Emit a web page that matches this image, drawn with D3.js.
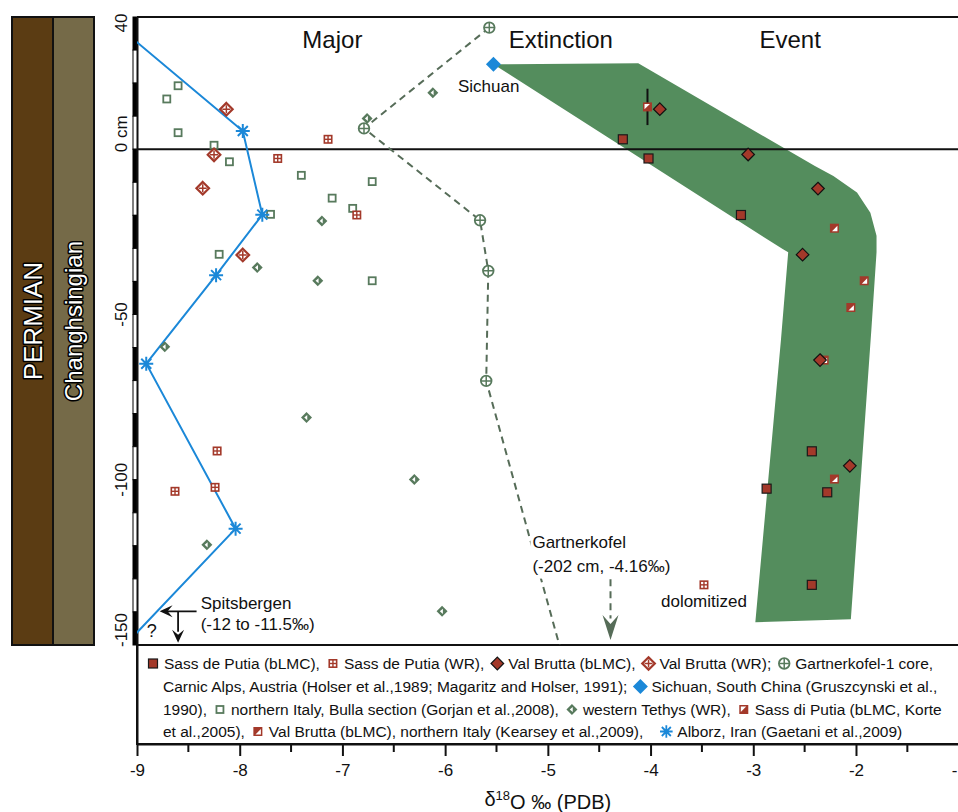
<!DOCTYPE html>
<html>
<head>
<meta charset="UTF-8">
<title>d18O across the end-Permian extinction</title>
<script src="https://cdn.jsdelivr.net/npm/d3@7"></script>
<style>
  body { margin: 0; background: #fff; }
  svg { display: block; font-family: "Liberation Sans", Arial, Helvetica, sans-serif; }
  .lbl { font-size: 17px; fill: #111; }
</style>
</head>
<body>
<div id="graphe"></div>
<script>
// --- data: d18O (per mil PDB) and depth (cm) ---
var sassLmcX = [-4.27, -4.02, -3.12, -2.43, -2.87, -2.28, -2.43];
var sassLmcD = [3.0, -2.8, -19.9, -91.4, -102.7, -103.8, -131.8];

var sassWrX = [-7.63, -7.14, -6.86, -8.22, -8.63, -8.24, -3.48];
var sassWrD = [-2.8, 3.0, -19.9, -91.3, -103.5, -102.3, -131.8];

var valLmcX = [-3.91, -3.05, -2.37, -2.52, -2.35, -2.06];
var valLmcD = [12.1, -1.6, -11.9, -31.9, -63.8, -95.8];

var valWrX = [-8.13, -8.25, -8.36, -7.97];
var valWrD = [12.1, -1.7, -11.8, -32.0];

// Gartnerkofel-1 core, last vertex runs off the chart toward -202 cm
var gartX = [-5.57, -6.79, -5.66, -5.58, -5.60, -4.87];
var gartD = [36.8, 6.3, -21.5, -36.8, -70.1, -152];

var sichuanX = [-5.53];
var sichuanD = [25.7];

var bullaX = [-8.60, -8.71, -8.60, -8.25, -8.10, -7.40, -7.10, -6.90, -6.71, -7.70, -8.20, -6.71];
var bullaD = [19.2, 15.2, 5.0, 1.2, -3.8, -7.9, -14.8, -17.9, -9.8, -19.7, -31.8, -39.8];

var tethysX = [-6.12, -6.76, -7.20, -7.24, -7.83, -8.73, -7.35, -8.32, -6.30, -6.03];
var tethysD = [17.1, 9.3, -21.7, -39.8, -35.8, -59.8, -81.2, -119.7, -99.9, -139.8];

var korteX = [-4.03];
var korteD = [12.8];
var korteErr = [5.5];

var kearseyX = [-2.21, -1.92, -2.05, -2.31, -2.21];
var kearseyD = [-23.9, -39.8, -47.9, -63.8, -99.8];

// Alborz line, first and last vertex leave the chart on the left
var alborzX = [-9.2, -7.97, -7.78, -8.23, -8.91, -8.04, -9.1];
var alborzD = [37.6, 5.5, -19.8, -38.1, -64.9, -114.8, -149.5];

// green envelope of the extinction event
var bandX = [-5.53, -4.12, -2.40, -2.22, -1.99, -1.86, -1.80, -1.80, -1.85, -2.05, -2.98, -2.73, -2.66, -2.71];
var bandD = [25.7, 26.0, -5.1, -8.1, -13.1, -19.2, -26.2, -31.2, -54.5, -142.2, -143.1, -57.5, -31.2, -30.3];

var xTicks = [-9, -8, -7, -6, -5, -4, -3, -2, -1];
var yTicks = [40, 0, -50, -100, -150];

var width = 958, height = 812;
var red = "#a3392a", grn = "#587a5d", dash = "#566c58", blue = "#1b88d8", bandCol = "#548d5d";

var x = d3.scaleLinear().domain([-9, -1]).range([137, 958.7]);
var y = d3.scaleLinear().domain([-150, 40]).range([645, 17]);
var axisY = 744;

var svg = d3.select("#graphe").append("svg")
    .attr("width", width).attr("height", height);

svg.append("defs").append("clipPath").attr("id", "plot").append("rect")
    .attr("x", x(-9)).attr("y", y(40))
    .attr("width", width - x(-9)).attr("height", y(-150) - y(40));

// stratigraphic column
var strat = [
  {name: "PERMIAN", fill: "#5b3c13", x0: 12, x1: 53, fs: 26},
  {name: "Changhsingian", fill: "#756a48", x0: 53, x1: 94, fs: 24}
];
svg.selectAll(".strat").data(strat).enter().append("rect")
    .attr("x", function(d) { return d.x0; })
    .attr("y", y(40))
    .attr("width", function(d) { return d.x1 - d.x0; })
    .attr("height", y(-150) - y(40))
    .attr("fill", function(d) { return d.fill; })
    .attr("stroke", "#111").attr("stroke-width", 2);
svg.selectAll(".stratlbl").data(strat).enter().append("text")
    .attr("transform", function(d) { return "translate(" + ((d.x0 + d.x1) / 2) + "," + y(-52) + ") rotate(-90)"; })
    .attr("text-anchor", "middle").attr("dy", "0.36em")
    .style("font-size", function(d) { return d.fs + "px"; })
    .attr("fill", "#fff").attr("stroke", "#000").attr("stroke-width", 3)
    .attr("paint-order", "stroke").attr("stroke-linejoin", "round")
    .text(function(d) { return d.name; });

// legend box (also closes the plot at -150 cm)
svg.append("rect")
    .attr("x", x(-9)).attr("y", y(-150))
    .attr("width", width).attr("height", axisY - y(-150))
    .attr("fill", "#fff").attr("stroke", "#111").attr("stroke-width", 2);

// depth scale bar, 10 cm segments
var segs = d3.range(40, -150, -10);
svg.selectAll(".seg").data(segs).enter().append("rect")
    .attr("x", 133).attr("width", 4.5)
    .attr("y", function(d) { return y(d); })
    .attr("height", function(d) { return y(d - 10) - y(d); })
    .attr("fill", function(d, i) { return i % 2 === 0 ? "#000" : "#fff"; })
    .attr("stroke", "#000").attr("stroke-width", 1);

svg.selectAll(".ylbl").data(yTicks).enter().append("text")
    .attr("class", "lbl")
    .attr("transform", function(d) {
      var py = d === 0 ? y(0) + 3 : Math.max(23, Math.min(630, y(d)));
      return "translate(121," + py + ") rotate(-90)";
    })
    .attr("text-anchor", function(d) { return d === 0 ? "start" : "middle"; })
    .attr("dy", "0.36em")
    .text(function(d) { return d === 0 ? "0 cm" : d; });

// frame
svg.append("line").attr("x1", x(-9)).attr("x2", width).attr("y1", y(40)).attr("y2", y(40))
    .attr("stroke", "#111").attr("stroke-width", 2);
svg.append("line").attr("x1", x(-9) + 0.5).attr("x2", x(-9) + 0.5).attr("y1", y(40)).attr("y2", axisY)
    .attr("stroke", "#111").attr("stroke-width", 2);

var plot = svg.append("g").attr("clip-path", "url(#plot)");

// extinction band
var bandPts = bandX.map(function(v, i) { return [v, bandD[i]]; });
plot.append("path")
    .attr("d", d3.line().x(function(d) { return x(d[0]); }).y(function(d) { return y(d[1]); })(bandPts) + "Z")
    .attr("fill", bandCol);

// boundary line at 0 cm
plot.append("line").attr("x1", x(-9)).attr("x2", width).attr("y1", y(0)).attr("y2", y(0))
    .attr("stroke", "#111").attr("stroke-width", 2);

var line = d3.line().x(function(d) { return x(d[0]); }).y(function(d) { return y(d[1]); });

// Gartnerkofel dashed curve
var gartPts = gartX.map(function(v, i) { return [v, gartD[i]]; });
plot.append("path").attr("d", line(gartPts))
    .attr("fill", "none").attr("stroke", dash).attr("stroke-width", 2)
    .attr("stroke-dasharray", "7,5");

// Alborz curve
var alborzPts = alborzX.map(function(v, i) { return [v, alborzD[i]]; });
plot.append("path").attr("d", line(alborzPts))
    .attr("fill", "none").attr("stroke", blue).attr("stroke-width", 2);

// Korte error bar
korteX.forEach(function(v, i) {
  plot.append("line").attr("x1", x(v)).attr("x2", x(v))
      .attr("y1", y(korteD[i] + korteErr[i])).attr("y2", y(korteD[i] - korteErr[i]))
      .attr("stroke", "#111").attr("stroke-width", 2);
});

function diamond(r) { return "M0," + (-r) + "L" + r + ",0L0," + r + "L" + (-r) + ",0Z"; }

var markers = {
  sassLmc: function(g) {
    g.append("rect").attr("x", -4.5).attr("y", -4.5).attr("width", 9).attr("height", 9)
        .attr("fill", red).attr("stroke", "#1a1a1a").attr("stroke-width", 1.2);
  },
  sassWr: function(g) {
    g.append("rect").attr("x", -4.5).attr("y", -4.5).attr("width", 9).attr("height", 9).attr("fill", red);
    [[-2.9, -2.9], [0.7, -2.9], [-2.9, 0.7], [0.7, 0.7]].forEach(function(p) {
      g.append("rect").attr("x", p[0]).attr("y", p[1]).attr("width", 2.2).attr("height", 2.2).attr("fill", "#fff");
    });
  },
  valLmc: function(g) {
    g.append("path").attr("d", diamond(6.3)).attr("fill", red)
        .attr("stroke", "#111").attr("stroke-width", 1.2);
  },
  valWr: function(g) {
    g.append("path").attr("d", diamond(6.3)).attr("fill", "#fff")
        .attr("stroke", red).attr("stroke-width", 2.2);
    g.append("path").attr("d", "M-4,0H4M0,-4V4").attr("stroke", red).attr("stroke-width", 1.5);
  },
  gart: function(g) {
    g.append("circle").attr("r", 5.3).attr("fill", "#fff")
        .attr("stroke", grn).attr("stroke-width", 1.8);
    g.append("path").attr("d", "M-5,0H5M0,-5V5").attr("stroke", grn).attr("stroke-width", 1.5);
  },
  sichuan: function(g) {
    g.append("path").attr("d", diamond(7.5)).attr("fill", blue);
  },
  bulla: function(g) {
    g.append("rect").attr("x", -3.5).attr("y", -3.5).attr("width", 7).attr("height", 7)
        .attr("fill", "#fff").attr("stroke", grn).attr("stroke-width", 1.8);
  },
  tethys: function(g) {
    g.append("path").attr("d", diamond(5.5)).attr("fill", grn);
    g.append("path").attr("d", "M-2.2,0L0.8,-2.6L0.8,2.6Z").attr("fill", "#fff");
  },
  korte: function(g) {
    g.append("rect").attr("x", -4.5).attr("y", -4.5).attr("width", 9).attr("height", 9).attr("fill", red);
    g.append("path").attr("d", "M-3,-3L2.4,-3L-3,2.4Z").attr("fill", "#fff");
  },
  kearsey: function(g) {
    g.append("rect").attr("x", -4.5).attr("y", -4.5).attr("width", 9).attr("height", 9).attr("fill", red);
    g.append("path").attr("d", "M3,-2.4L3,3L-2.4,3Z").attr("fill", "#fff");
  },
  alborz: function(g) {
    g.append("path").attr("d", "M-7,0H7M0,-7V7M-5,-5L5,5M-5,5L5,-5")
        .attr("stroke", blue).attr("stroke-width", 2);
  }
};

function plotSeries(xs, ds, type) {
  xs.forEach(function(v, i) {
    if (v < -9 || ds[i] < -150 || ds[i] > 40) return;
    var g = plot.append("g").attr("transform", "translate(" + x(v) + "," + y(ds[i]) + ")");
    markers[type](g);
  });
}

plotSeries(bullaX, bullaD, "bulla");
plotSeries(tethysX, tethysD, "tethys");
plotSeries(gartX, gartD, "gart");
plotSeries(sassWrX, sassWrD, "sassWr");
plotSeries(valWrX, valWrD, "valWr");
plotSeries(alborzX, alborzD, "alborz");
plotSeries(kearseyX, kearseyD, "kearsey");
plotSeries(korteX, korteD, "korte");
plotSeries(sassLmcX, sassLmcD, "sassLmc");
plotSeries(valLmcX, valLmcD, "valLmc");
plotSeries(sichuanX, sichuanD, "sichuan");

// headings
var headings = [{t: "Major", x: -7.39}, {t: "Extinction", x: -5.38}, {t: "Event", x: -2.94}];
svg.selectAll(".head").data(headings).enter().append("text")
    .attr("x", function(d) { return x(d.x); }).attr("y", y(30.5))
    .style("font-size", "24px").attr("fill", "#111")
    .text(function(d) { return d.t; });

// annotations
svg.append("text").attr("class", "lbl").attr("x", x(-5.53) + 26).attr("y", y(17.4))
    .attr("text-anchor", "end").text("Sichuan");
svg.append("text").attr("class", "lbl").attr("x", x(-3.48)).attr("y", y(-138.6))
    .attr("text-anchor", "middle").text("dolomitized");

var gk = svg.append("g");
var gkBg = gk.append("rect").attr("fill", "#fff");
var gkT = gk.append("text").attr("class", "lbl");
gkT.append("tspan").attr("x", x(-5.15)).attr("y", y(-120.8)).text("Gartnerkofel");
gkT.append("tspan").attr("x", x(-5.15)).attr("y", y(-127.8)).text("(-202 cm, -4.16\u2030)");
var bb = gkT.node().getBBox();
gkBg.attr("x", bb.x - 2).attr("y", bb.y - 3).attr("width", bb.width + 4).attr("height", bb.height + 6);

function arrowHead(g, px, py, angle, len, wid, notch, col) {
  g.append("path")
      .attr("d", "M0,0L" + (-len) + "," + (-wid / 2) + "L" + (-len + notch) + ",0L" + (-len) + "," + (wid / 2) + "Z")
      .attr("transform", "translate(" + px + "," + py + ") rotate(" + angle + ")")
      .attr("fill", col);
}

// Gartnerkofel off-scale arrow
svg.append("line").attr("x1", x(-4.39)).attr("x2", x(-4.39))
    .attr("y1", y(-130.1)).attr("y2", y(-142))
    .attr("stroke", dash).attr("stroke-width", 2).attr("stroke-dasharray", "7,5");
arrowHead(svg, x(-4.39), y(-148.5), 90, 25, 16, 9, dash);

// Spitsbergen arrows
svg.append("line").attr("x1", x(-8.42)).attr("x2", x(-8.74)).attr("y1", y(-139.8)).attr("y2", y(-139.8))
    .attr("stroke", "#111").attr("stroke-width", 1.8);
arrowHead(svg, x(-8.78), y(-139.8), 180, 13, 12, 5, "#111");
svg.append("line").attr("x1", x(-8.6)).attr("x2", x(-8.6)).attr("y1", y(-139.8)).attr("y2", y(-146))
    .attr("stroke", "#111").attr("stroke-width", 1.8);
arrowHead(svg, x(-8.6), y(-149.3), 90, 13, 12, 5, "#111");
svg.append("text").attr("class", "lbl").attr("x", x(-8.857)).attr("y", y(-147.6))
    .attr("text-anchor", "middle").style("font-size", "18px").text("?");
svg.append("text").attr("class", "lbl").attr("x", x(-8.38)).attr("y", y(-139.2)).text("Spitsbergen");
svg.append("text").attr("class", "lbl").attr("x", x(-8.38)).attr("y", y(-145.6)).text("(-12 to -11.5\u2030)");

// x axis
var xAxis = d3.axisBottom(x).tickValues(xTicks).tickSize(12).tickSizeOuter(0).tickPadding(8)
    .tickFormat(function(d) { return String(d); });
var ax = svg.append("g").attr("transform", "translate(0," + axisY + ")").call(xAxis);
ax.select(".domain").attr("stroke", "#111").attr("stroke-width", 2);
ax.selectAll(".tick line").attr("stroke", "#111").attr("stroke-width", 2);
ax.selectAll(".tick text").style("font-size", "17px").attr("fill", "#111")
    .style("font-family", "'Liberation Sans', Arial, sans-serif");
var minor = d3.range(-8.5, -1, 1);
ax.selectAll(".minor").data(minor).enter().append("line")
    .attr("x1", function(d) { return x(d); }).attr("x2", function(d) { return x(d); })
    .attr("y1", 0).attr("y2", 8).attr("stroke", "#111").attr("stroke-width", 2);

var title = svg.append("text").attr("x", x(-5)).attr("y", 806).attr("text-anchor", "middle")
    .style("font-size", "20px").attr("fill", "#111");
title.append("tspan").text("\u03b4");
title.append("tspan").attr("dy", "-0.45em").style("font-size", "13px").text("18");
title.append("tspan").attr("dy", "0.45em").text("O \u2030 (PDB)");

// legend
var legendLines = [
  [{m: "sassLmc"}, {t: "Sass de Putia (bLMC),"}, {m: "sassWr"}, {t: "Sass de Putia (WR),"},
   {m: "valLmc"}, {t: "Val Brutta (bLMC),"}, {m: "valWr"}, {t: "Val Brutta (WR);"},
   {m: "gart"}, {t: "Gartnerkofel-1 core,"}],
  [{t: "Carnic Alps, Austria (Holser et al.,1989; Magaritz and Holser, 1991);"},
   {m: "sichuan"}, {t: "Sichuan, South China (Gruszcynski et al.,"}],
  [{t: "1990),"}, {m: "bulla"}, {t: "northern Italy, Bulla section (Gorjan et al.,2008),"},
   {m: "tethys"}, {t: "western Tethys (WR),"}, {m: "korte"}, {t: "Sass di Putia (bLMC, Korte"}],
  [{t: "et al.,2005),"}, {m: "kearsey"}, {t: "Val Brutta (bLMC), northern Italy (Kearsey et al.,2009),"},
   {m: "alborz", extra: 10}, {t: "Alborz, Iran (Gaetani et al.,2009)"}]
];
var legBase = [669, 692, 715, 737];
var leg = svg.append("g");
legendLines.forEach(function(items, li) {
  var cursor = items[0].m ? 148 : 163, prev = null;
  var by = legBase[li];
  items.forEach(function(it) {
    if (it.m) {
      var cx = cursor + (prev === "t" ? 13 : 5) + (it.extra || 0);
      var g = leg.append("g").attr("transform", "translate(" + cx + "," + (by - 5.5) + ") scale(" + (it.m === "alborz" ? 0.9 : 1) + ")");
      markers[it.m](g);
      cursor = cx;
      prev = "m";
    } else {
      var sx = cursor + (prev === "m" ? 11 : 0);
      var t = leg.append("text").attr("x", sx).attr("y", by)
          .style("font-size", "15.5px").attr("fill", "#111").text(it.t);
      cursor = sx + t.node().getComputedTextLength();
      prev = "t";
    }
  });
});
</script>
</body>
</html>
